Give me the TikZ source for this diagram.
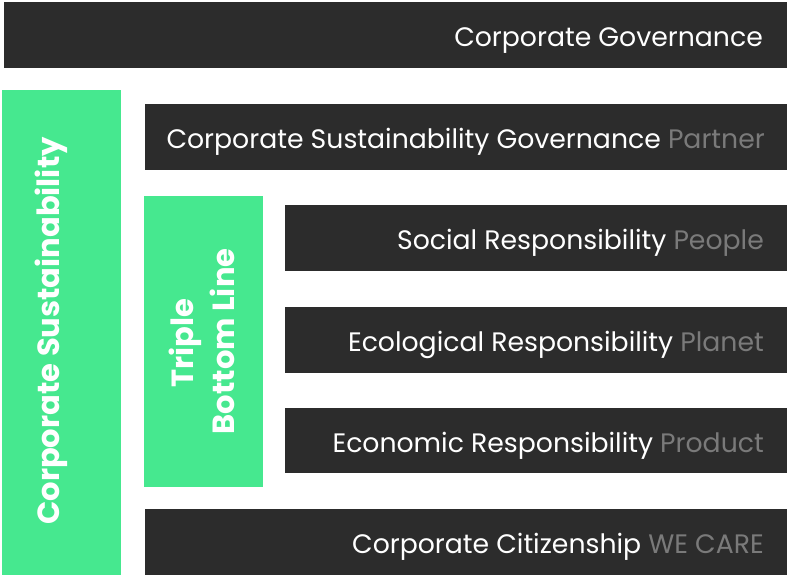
\documentclass[tikz,border=0pt]{standalone}
\usepackage{fontspec}
\setmainfont{Poppins}
\definecolor{barc}{HTML}{2C2C2C}
\definecolor{greenc}{HTML}{46E88F}
\definecolor{subc}{HTML}{7A7A7A}
\begin{document}
\begin{tikzpicture}[x=1pt,y=-1pt]
\useasboundingbox (0,0) rectangle (787,575);
\tikzset{
  darkbar/.style={fill=barc, draw=none, anchor=north west, inner sep=0pt},
  greenbar/.style={fill=greenc, draw=none, anchor=north west, inner sep=0pt},
  bartext/.style={anchor=base east, inner sep=0pt, text=white, font=\fontsize{26.7}{30}\selectfont},
  vtext/.style={rotate=90, inner sep=0pt, text=white, font=\bfseries\fontsize{30.6}{36}\selectfont},
}
% boxes
\node[darkbar, minimum width=783pt, minimum height=66pt] (govbox) at (4,2) {};
\node[greenbar, minimum width=119pt, minimum height=485pt] (csbox) at (2,90) {};
\node[darkbar, minimum width=642pt, minimum height=66pt] (csgbox) at (145,104) {};
\node[greenbar, minimum width=119pt, minimum height=291pt] (tblbox) at (144,196) {};
\node[darkbar, minimum width=502pt, minimum height=66pt] (socbox) at (285,205) {};
\node[darkbar, minimum width=502pt, minimum height=66pt] (ecobox) at (285,307) {};
\node[darkbar, minimum width=502pt, minimum height=65pt] (econbox) at (285,408) {};
\node[darkbar, minimum width=642pt, minimum height=66pt] (citbox) at (145,509) {};
% texts
\node[bartext] (govt) at (763,46.5) {Corporate Governance};
\node[bartext] (csgt) at (765,148.5) {Corporate Sustainability Governance \textcolor{subc}{Partner}};
\node[bartext] (soct) at (764,249.5) {Social Responsibility \textcolor{subc}{People}};
\node[bartext] (ecot) at (764,351.5) {Ecological Responsibility \textcolor{subc}{Planet}};
\node[bartext] (econt) at (764,452.5) {Economic Responsibility \textcolor{subc}{Product}};
\node[bartext] (citt) at (764,553.5) {Corporate Citizenship \textcolor{subc}{WE CARE}};
\node[vtext, anchor=base] (cst) at (59,331) {Corporate Sustainability};
\node[vtext, anchor=base] (tplt) at (193,343) {Triple};
\node[vtext, anchor=base] (bott) at (234,341.5) {Bottom Line};
\end{tikzpicture}
\end{document}
